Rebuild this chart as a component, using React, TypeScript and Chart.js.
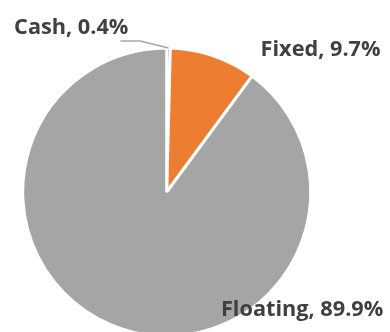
import React, { useEffect, useRef } from "react";
import { Chart, registerables } from "chart.js";

Chart.register(...registerables);

const categories = ["Cash", "Fixed", "Floating"];
const shares = [0.4, 9.7, 89.9];
const sliceColors = ["#4472C4", "#ED7D31", "#A5A5A5"];
const labelTexts = ["Cash, 0.4%", "Fixed, 9.7%", "Floating, 89.9%"];

// label anchors relative to pie centre, in units of the pie radius
const labelDx = [-0.266, 0.652, 0.3766];
const labelDy = [-1.0997, -0.9416, 0.859];
const labelAlign: CanvasTextAlign[] = ["right", "left", "left"];

const labelPlugin = {
  id: "sliceLabels",
  afterDraw(chart: any) {
    const meta = chart.getDatasetMeta(0);
    const ctx = chart.ctx;
    ctx.save();
    ctx.font = "bold 21.7px 'Open Sans'";
    ctx.fillStyle = "#404040";
    ctx.textBaseline = "alphabetic";
    meta.data.forEach((arc: any, i: number) => {
      const { x, y, outerRadius } = arc.getProps(["x", "y", "outerRadius"], true);
      ctx.textAlign = labelAlign[i];
      ctx.fillText(labelTexts[i], x + labelDx[i] * outerRadius, y + labelDy[i] * outerRadius);
    });
    // leader line for the small Cash slice
    const arc = meta.data[0];
    const p = arc.getProps(["x", "y", "outerRadius", "startAngle", "endAngle"], true);
    const mid = (p.startAngle + p.endAngle) / 2;
    const ex = p.x + Math.cos(mid) * p.outerRadius;
    const ey = p.y + Math.sin(mid) * p.outerRadius;
    ctx.strokeStyle = "#A6A6A6";
    ctx.lineWidth = 1.5;
    ctx.beginPath();
    ctx.moveTo(p.x - 0.321 * p.outerRadius, p.y - 1.048 * p.outerRadius);
    ctx.lineTo(p.x - 0.1835 * p.outerRadius, p.y - 1.048 * p.outerRadius);
    ctx.lineTo(ex, ey);
    ctx.stroke();
    ctx.restore();
  },
};

export default function App() {
  const ref = useRef<HTMLCanvasElement>(null);
  useEffect(() => {
    document.body.style.margin = "0";
    const chart = new Chart(ref.current!, {
      type: "pie",
      data: {
        labels: categories,
        datasets: [
          {
            data: shares,
            backgroundColor: sliceColors,
            borderColor: "#FFFFFF",
            borderWidth: 3,
          },
        ],
      },
      options: {
        animation: false,
        responsive: false,
        rotation: 0,
        layout: { padding: { left: 21.2, right: 77.8, top: 46.5, bottom: 4.5 } },
        plugins: {
          legend: { display: false },
          tooltip: { enabled: false },
        },
      },
      plugins: [labelPlugin],
    });
    return () => chart.destroy();
  }, []);
  return (
    <div style={{ width: 390, height: 332, overflow: "hidden" }}>
      <canvas ref={ref} width={390} height={342} style={{ display: "block" }} />
    </div>
  );
}
